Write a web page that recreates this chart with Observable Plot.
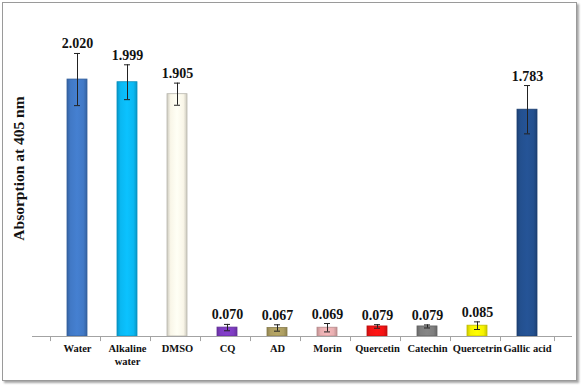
<!DOCTYPE html>
<html>
<head>
<meta charset="utf-8">
<script src="https://cdn.jsdelivr.net/npm/d3@7"></script>
<script src="https://cdn.jsdelivr.net/npm/@observablehq/plot@0.6"></script>
<style>
  html, body { margin: 0; padding: 0; background: #fff; }
  #wrap { position: relative; width: 581px; height: 386px; overflow: hidden; }
  #frame { position: absolute; left: 2px; top: 2px; width: 573px; height: 377px;
           border: 1px solid #9a9a9a; box-shadow: 2px 2px 2px rgba(0,0,0,0.35); pointer-events: none; }
  svg { position: absolute; left: 0; top: 0; }
</style>
</head>
<body>
<div id="wrap"><div id="frame"></div></div>
<script>
const categories = ["Water", "Alkaline water", "DMSO", "CQ", "AD", "Morin", "Quercetin", "Catechin", "Quercetrin", "Gallic acid"];
const tickLabels = ["Water", "Alkaline\nwater", "DMSO", "CQ", "AD", "Morin", "Quercetin", "Catechin", "Quercetrin", "Gallic acid"];
const values = [2.020, 1.999, 1.905, 0.070, 0.067, 0.069, 0.079, 0.079, 0.085, 1.783];
const errors = [0.205, 0.137, 0.087, 0.025, 0.025, 0.033, 0.014, 0.012, 0.030, 0.190];
const valueLabels = ["2.020", "1.999", "1.905", "0.070", "0.067", "0.069", "0.079", "0.079", "0.085", "1.783"];
const colors = ["#4179c6", "#0ab8f2", "#f9f6e8", "#7e3cc2", "#ae9f62", "#e9b0b2", "#f31414", "#7f7f7f", "#f6f200", "#23508f"];
const yLabel = "Absorption at 405 nm";

const data = categories.map((c, i) => ({
  cat: c, value: values[i], err: errors[i], label: valueLabels[i], color: colors[i], i
}));
const labelOf = new Map(categories.map((c, i) => [c, tickLabels[i]]));
const strokeOf = c => c === "#f9f6e8" ? "#b8b6ad" : d3.color(c).darker(0.7).formatHex();

const serif = "Liberation Serif, Times New Roman, serif";

const svg = Plot.plot({
  width: 581,
  height: 386,
  marginLeft: 32,
  marginRight: 9,
  marginTop: 18,
  marginBottom: 50,
  style: { fontFamily: serif, background: "transparent" },
  x: { domain: categories, padding: 0.6, axis: null },
  y: { domain: [0, 2.5], axis: null },
  color: { type: "identity" },
  marks: [
    Plot.barY(data, {
      x: "cat", y: "value",
      fill: d => `url(#grad${d.i})`,
      stroke: d => strokeOf(d.color),
      strokeWidth: 0.8
    }),
    Plot.ruleY([0], { stroke: "#a3a3a3" }),
    Plot.ruleX(categories, { x: d => d, y1: 0, y2: -0.04, dx: -27, stroke: "#a3a3a3" }),
    Plot.ruleX(categories.slice(-1), { x: d => d, y1: 0, y2: -0.04, dx: 27, stroke: "#a3a3a3" }),
    Plot.ruleX(data, { x: "cat", y1: d => d.value - d.err, y2: d => d.value + d.err, stroke: "#222", strokeWidth: 1 }),
    Plot.tickY(data, { x: "cat", y: d => d.value - d.err, insetLeft: 7, insetRight: 7, stroke: "#222" }),
    Plot.tickY(data, { x: "cat", y: d => d.value + d.err, insetLeft: 7, insetRight: 7, stroke: "#222" }),
    Plot.text(data, {
      x: "cat", y: d => d.value + d.err, text: "label",
      lineAnchor: "bottom", dy: -5,
      fontSize: 14, fontWeight: "bold", fill: "#111", fontFamily: serif
    }),
    Plot.axisX({
      tickSize: 0, tickPadding: 7,
      tickFormat: d => labelOf.get(d),
      fontSize: 10.5, fontWeight: "bold", fill: "#111",
      lineHeight: 1.2,
      label: null
    }),
    Plot.text([yLabel], {
      frameAnchor: "left", text: d => d, rotate: -90,
      textAnchor: "middle",
      dx: -13, dy: -9,
      fontSize: 15.5, fontWeight: "bold", fill: "#111", fontFamily: serif
    })
  ]
});

const defs = d3.select(svg).insert("defs", ":first-child");
colors.forEach((c, i) => {
  const base = d3.color(c);
  const g = defs.append("linearGradient").attr("id", `grad${i}`)
    .attr("x1", "0%").attr("x2", "100%").attr("y1", "0%").attr("y2", "0%");
  const stops = [
    [0, base.darker(0.55)],
    [0.18, base],
    [0.5, base.brighter(0.15)],
    [0.82, base],
    [1, base.darker(0.55)]
  ];
  stops.forEach(([o, col]) => g.append("stop").attr("offset", o).attr("stop-color", col.formatHex()));
});

document.getElementById("wrap").appendChild(svg);
</script>
</body>
</html>
